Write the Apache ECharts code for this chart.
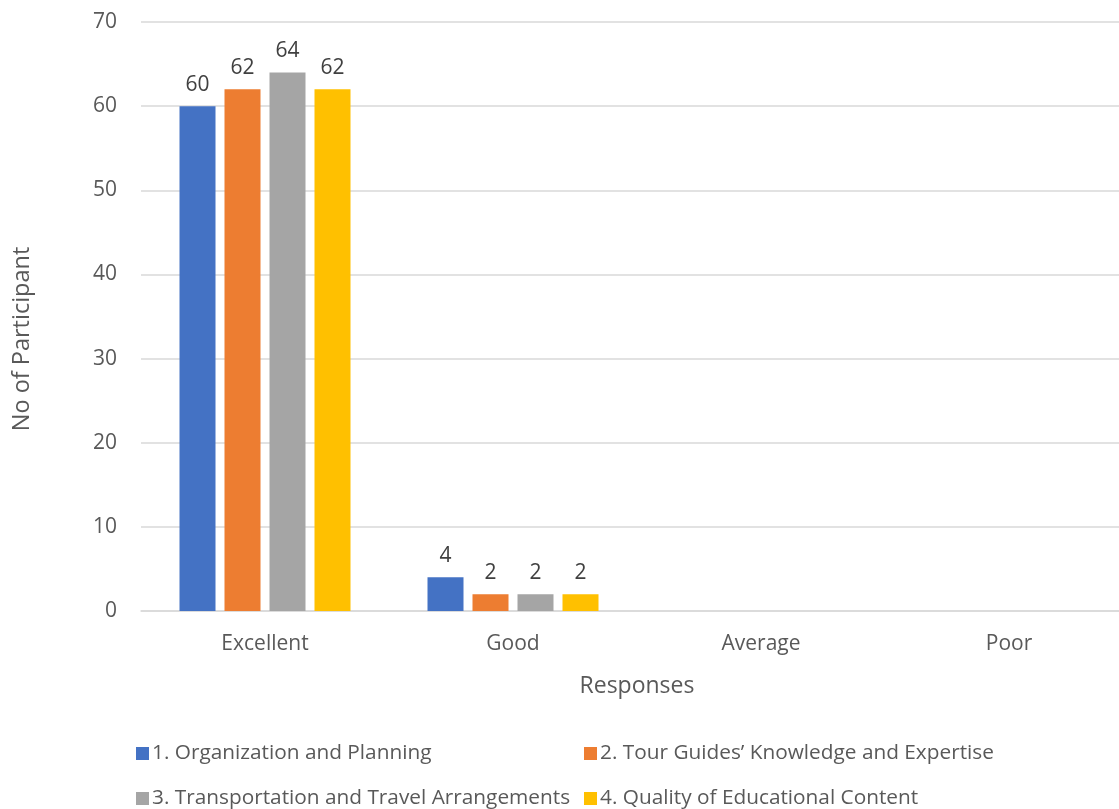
<!DOCTYPE html>
<html>
<head>
<meta charset="utf-8">
<script src="https://cdn.jsdelivr.net/npm/echarts@6/dist/echarts.min.js"></script>
<style>html,body{margin:0;padding:0;background:#fff;}#c{width:1119px;height:809px;}</style>
</head>
<body>
<div id="c"></div>
<script>
const categories = ['Excellent', 'Good', 'Average', 'Poor'];
const seriesNames = [
  '1. Organization and Planning',
  '2. Tour Guides\u2019 Knowledge and Expertise',
  '3. Transportation and Travel Arrangements',
  '4. Quality of Educational Content'
];
const organization = [60, 4, null, null];
const tourGuides = [62, 2, null, null];
const transportation = [64, 2, null, null];
const educational = [62, 2, null, null];
const colors = ['#4472C4', '#ED7D31', '#A5A5A5', '#FFC000'];
const yTicks = { min: 0, max: 70, interval: 10 };
const yTitle = 'No of Participant';
const xTitle = 'Responses';

const FONT = 'Open Sans';
const TXT = '#595959';
const values = [organization, tourGuides, transportation, educational];

const chart = echarts.init(document.getElementById('c'));
const legendPos = [[131, 738], [579, 738], [131, 783], [579, 783]];
chart.setOption({
  animation: false,
  color: colors,
  textStyle: { fontFamily: FONT },
  grid: { left: 141, top: 22, width: 992, height: 589, containLabel: false, outerBoundsMode: 'none' },
  graphic: [{
    type: 'text', x: 22, y: 339, rotation: Math.PI / 2,
    style: { text: yTitle, font: '23.5px "Open Sans"', fill: TXT, align: 'center', verticalAlign: 'middle' }
  }],
  legend: seriesNames.map((n, i) => ({
    data: [n], left: legendPos[i][0], top: legendPos[i][1],
    icon: 'rect', itemWidth: 13, itemHeight: 13, itemGap: 6,
    textStyle: { fontFamily: FONT, fontSize: 20.8, color: TXT, padding: [0, 0, 0, -2] }
  })),
  xAxis: {
    type: 'category', data: categories,
    name: xTitle, nameLocation: 'middle', nameGap: 64,
    nameTextStyle: { fontFamily: FONT, fontSize: 23, color: TXT },
    axisLine: { lineStyle: { color: '#d9d9d9', width: 1.5 } },
    axisTick: { show: false },
    axisLabel: { fontFamily: FONT, fontSize: 21, color: TXT, margin: 23 }
  },
  yAxis: {
    type: 'value', min: yTicks.min, max: yTicks.max, interval: yTicks.interval,
    axisLine: { show: false }, axisTick: { show: false },
    splitLine: { lineStyle: { color: '#d9d9d9', width: 1.5 } },
    axisLabel: { fontFamily: FONT, fontSize: 21, color: TXT, margin: 24 }
  },
  series: seriesNames.map((n, i) => ({
    name: n, type: 'bar', data: values[i],
    barWidth: 36, barGap: '25%',
    itemStyle: { color: colors[i] },
    label: { show: true, position: 'top', distance: 11, fontFamily: FONT, fontSize: 21, color: '#404040' }
  }))
});
</script>
</body>
</html>
